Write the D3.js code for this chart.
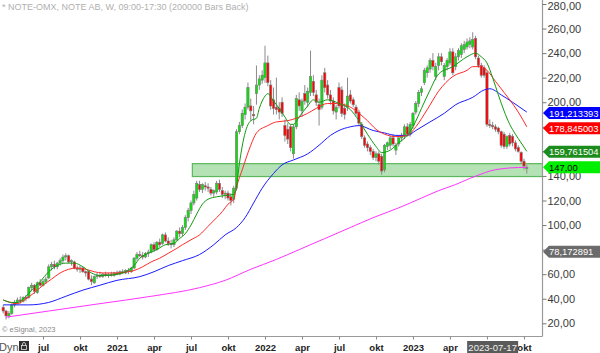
<!DOCTYPE html>
<html><head><meta charset="utf-8">
<script src="https://cdn.jsdelivr.net/npm/d3@7"></script>
<style>body{margin:0;background:#fff}svg{display:block}</style>
</head><body><svg id="c" width="600" height="353"></svg>
<script>
// ---------- DATA ----------
const title = "* NOTE-OMX, NOTE AB, W, 09:00-17:30 (200000 Bars Back)";
const firstWeek = "2020-03-30";
const opens = [33,30,26,28,35,37,39,38,41,41,49,51,45,53,51,54,57,66,68,66,69,71,74,75,70,70,65,64,65,62,62,56,53,58,59,58,60,59,60,59,61,60,62,61,63,62,65,73,76,75,74,77,78,84,80,86,85,92,87,85,84,88,95,93,98,106,112,118,122,133,129,132,131,129,126,127,134,128,125,126,123,121,130,176,181,190,196,197,190,207,214,218,220,232,214,202,196,195,200,181,178,180,158,180,202,193,207,200,208,217,206,198,196,224,214,206,201,192,212,210,195,196,206,202,196,192,182,171,166,163,160,155,158,156,145,164,165,171,161,166,171,172,180,174,181,192,199,208,216,224,227,234,221,230,237,221,229,232,241,229,237,239,243,245,247,245,252,236,230,228,224,182,181,180,179,176,174,164,173,172,167,163,159,152,146];
const highs = [35,31,30,36,39,41,42,42,43,50,53,52,54,56,56,58,68,70,71,70,73,76,77,76,72,71,67,67,66,63,63,59,59,61,62,61,62,61,62,62,63,63,64,64,65,66,74,78,79,78,78,80,85,86,87,89,93,94,90,88,90,96,98,100,108,114,120,128,136,136,134,135,134,131,129,136,137,131,128,128,126,132,178,184,194,199,216,203,197,230,222,226,246,238,218,212,220,200,204,186,183,182,182,206,208,203,214,212,242,222,210,203,222,228,218,210,204,198,216,213,199,220,210,204,198,194,184,173,168,165,162,160,160,158,166,168,173,174,167,172,175,182,183,184,192,201,210,213,228,230,236,240,232,240,240,232,236,244,244,240,244,248,250,252,253,257,254,238,232,230,226,186,184,182,180,177,176,173,175,174,169,165,160,154,149];
const lows = [28,23,24,27,33,35,36,37,38,40,46,44,44,50,50,52,56,63,64,64,67,69,71,69,67,64,62,61,61,58,55,51,52,56,57,57,58,57,58,58,59,59,60,60,60,61,64,71,74,72,73,74,77,78,79,82,84,86,83,81,82,87,90,91,96,103,109,116,120,127,126,128,127,124,123,125,127,122,121,120,116,118,128,174,179,186,194,185,182,198,210,215,216,213,194,190,190,186,188,168,166,160,154,178,193,188,198,196,205,205,197,181,194,208,203,198,190,186,195,188,186,193,199,196,189,181,170,163,160,157,153,152,149,141,143,161,162,164,157,164,168,170,172,172,178,190,196,205,214,220,224,226,218,226,230,218,226,230,222,226,234,236,240,243,244,243,235,228,220,220,180,179,178,176,174,163,162,162,164,164,160,159,150,145,142];
const closes = [30,26,28,35,37,39,38,41,40,49,51,46,53,51,54,56,66,68,66,69,71,74,75,70,71,65,64,65,62,61,56,54,58,59,58,60,59,60,59,61,60,62,61,63,62,65,73,76,75,74,77,78,84,80,86,84,92,87,85,84,88,95,93,98,106,112,118,125,134,129,133,131,130,126,128,134,129,125,126,122,120,130,176,181,191,196,212,193,189,214,219,222,232,216,197,195,194,192,191,173,170,163,180,203,197,201,201,209,221,208,200,194,218,212,206,201,193,196,197,191,190,205,201,198,191,183,172,165,163,160,155,158,152,144,165,167,171,166,165,171,173,180,174,182,191,199,208,211,226,228,234,229,229,237,233,230,234,241,224,237,242,246,247,249,250,251,237,230,222,222,182,181,180,178,176,165,164,172,166,167,162,160,152,148,147];

// moving averages: [bar index, value]
const greenMA = [[0,39],[3,37],[5,37],[8,42],[10,47],[13,54],[16,62],[19,67],[22,69],[25,69],[28,66],[31,61],[34,59],[37,59],[40,60],[43,62],[46,67],[48,73],[51,77],[54,80],[57,84],[60,85],[62,89],[64,93],[66,100],[68,109],[70,117],[72,121],[75,123],[78,124],[81,125],[82,132],[83,150],[85,175],[87,185],[89,187],[90,195],[92,205],[93,207],[95,201],[97,195],[99,188],[101,182],[102,182],[104,188],[107,197],[109,202],[111,200],[114,202],[118,199],[122,194],[125,185],[128,174],[131,164],[133,159],[136,161],[139,167],[142,173],[144,180],[147,195],[150,210],[153,223],[158,229],[163,237],[166,240],[168,237],[170,232],[172,220],[174,206],[176,193],[178,182],[180,174],[182,167],[184,160]];
const redMA = [[0,39],[5,36],[8,40],[11,45],[14,51],[17,56],[20,61],[23,64],[26,65],[29,64],[32,62],[35,61],[40,61],[44,62],[46,63],[49,66],[52,70],[55,73],[58,77],[61,81],[63,84],[66,88],[69,92],[72,99],[75,106],[77,111],[79,117],[81,121],[82,131],[84,145],[87,165],[89,175],[93,181],[96,184],[100,185],[103,187],[107,191],[110,195],[114,199],[117,199],[122,196],[125,191],[128,185],[131,178],[134,174],[138,172],[142,173],[145,180],[149,194],[153,209],[158,221],[163,226],[165,229],[168,229],[170,226],[173,217],[176,208],[178,202],[181,192],[184,180]];
const blueMA = [[0,35],[9,35],[16,37],[22,42],[28,47],[34,51],[40,55],[48,58],[53,62],[58,67],[63,71],[69,76],[74,84],[78,92],[82,98],[85,106],[88,118],[91,130],[95,142],[98,149],[102,153],[107,158],[111,165],[115,173],[118,177],[122,180],[125,181],[130,177],[134,175],[138,173],[142,173],[145,177],[150,184],[155,191],[159,198],[165,204],[169,210],[171,211],[175,206],[179,200],[184,192]];
const magentaMA = [[1,25],[16,30],[34,36],[52,42],[69,49],[78,55],[87,64],[96,72],[104,80],[113,89],[122,98],[130,106],[139,114],[147,122],[153,128],[159,133],[164,138],[168,141.5],[171,144],[175,145.8],[178,146.5],[184,147]];

const zoneLow = 139.5, zoneHigh = 150, zoneStart = 67;
const yTicks = [20,40,60,80,100,120,140,160,180,200,220,240,260,280];
const xTickDates = ["2020-07-06","2020-10-05","2021-01-04","2021-04-05","2021-07-05","2021-10-04","2022-01-03","2022-04-04","2022-07-04","2022-10-03","2023-01-02","2023-04-03","2023-07-03","2023-10-02"];
const xTickLabels = ["jul","okt","2021","apr","jul","okt","2022","apr","jul","okt","2023","apr","jul","okt"];
const cursorDate = "2023-07-17";
const markerValues = [191.213393, 178.845003, 159.761504, 147.00, 78.172891];
const markerLabels = ["191,213393","178,845003","159,761504","147,00","78,172891"];

// ---------- DRAW ----------
const parse = d3.timeParse("%Y-%m-%d");
const t0 = parse(firstWeek);
const dates = closes.map((_, i) => d3.timeDay.offset(t0, 7 * i));
const axisX = 542, plotBottom = 336;
const svg = d3.select("#c");
const font = "Arial, 'Liberation Sans', sans-serif";

const x = d3.scaleTime().domain([dates[0], dates[dates.length - 1]]).range([3.2, 526.8]);
const y = d3.scaleLinear().domain([20, 280]).range([323.3, 4]);

svg.append("clipPath").attr("id", "pc").append("rect")
  .attr("x", 0).attr("y", 0).attr("width", axisX).attr("height", plotBottom);
const plot = svg.append("g").attr("clip-path", "url(#pc)");

// support zone
plot.append("rect")
  .attr("x", x(dates[zoneStart]) - 1.5).attr("y", y(zoneHigh))
  .attr("width", axisX - x(dates[zoneStart]) + 5).attr("height", y(zoneLow) - y(zoneHigh))
  .attr("fill", "#b4e2b4").attr("stroke", "#5cb85c").attr("stroke-width", 1.2);

// candles
const bw = 2.3;
const cg = plot.append("g");
closes.forEach((c, i) => {
  const cx = x(dates[i]);
  cg.append("line").attr("x1", cx).attr("x2", cx).attr("y1", y(highs[i])).attr("y2", y(lows[i]))
    .attr("stroke", "#8a8a8a").attr("stroke-width", 1);
});
closes.forEach((c, i) => {
  const cx = x(dates[i]);
  const o = opens[i];
  const top = y(Math.max(o, c)), bot = y(Math.min(o, c));
  cg.append("rect").attr("x", cx - bw / 2).attr("y", top)
    .attr("width", bw).attr("height", Math.max(1, bot - top))
    .attr("fill", c >= o ? "#00e600" : "#ff0000")
    .attr("stroke", "#7a7a7a").attr("stroke-width", 0.6);
});

// moving averages
const line = d3.line().x(d => x(dates[d[0]])).y(d => y(d[1])).curve(d3.curveMonotoneX);
[[magentaMA, "#ff33ff"], [blueMA, "#1a1aff"], [redMA, "#ff2a2a"], [greenMA, "#119911"]].forEach(([d, col]) => {
  plot.append("path").datum(d).attr("d", line).attr("fill", "none")
    .attr("stroke", col).attr("stroke-width", 1);
});

// frame
svg.append("line").attr("x1", axisX + 0.5).attr("x2", axisX + 0.5).attr("y1", 0).attr("y2", plotBottom + 0.5)
  .attr("stroke", "#9a9a9a").attr("stroke-width", 1.2);
svg.append("line").attr("x1", 0).attr("x2", axisX + 0.5).attr("y1", plotBottom + 0.5).attr("y2", plotBottom + 0.5)
  .attr("stroke", "#9a9a9a").attr("stroke-width", 1.2);

// y axis
const fmt = v => d3.format(".2f")(v).replace(".", ",");
const ya = svg.append("g").attr("transform", `translate(${axisX + 0.5},0)`)
  .call(d3.axisRight(y).tickValues(yTicks).tickSize(4).tickPadding(1).tickFormat(fmt));
ya.select(".domain").remove();
ya.selectAll(".tick line").attr("stroke", "#777");
ya.selectAll(".tick text").attr("font-family", font).attr("font-size", 11).attr("fill", "#3a3a3a");
ya.selectAll(".tick").filter(d => d === 280).select("text").attr("dy", "0.5em");

// x axis
const tickD = xTickDates.map(parse);
const xa = svg.append("g").attr("transform", `translate(0,${plotBottom + 0.5})`)
  .call(d3.axisBottom(x).tickValues(tickD).tickSize(3).tickPadding(5).tickFormat((d, i) => xTickLabels[i]));
xa.select(".domain").remove();
xa.selectAll(".tick line").attr("stroke", "#888");
xa.selectAll(".tick text").attr("font-family", font).attr("font-size", 9.5).attr("font-weight", "bold").attr("fill", "#222");

// cursor date box
const cx = x(parse(cursorDate));
svg.append("rect").attr("x", cx - 25.5).attr("y", 341).attr("width", 51).attr("height", 12).attr("fill", "#5a5a5a");
svg.append("text").attr("x", cx).attr("y", 351).attr("text-anchor", "middle")
  .attr("font-family", font).attr("font-size", 9.5).attr("fill", "#f0f0f0").text(cursorDate);

// price markers
const mFill = ["#0000ff", "#ff0000", "#1c8c1c", "#00ee00", "#6b6b6b"];
const mText = ["#ffffff", "#ffffff", "#ffffff", "#000000", "#ffffff"];
markerValues.forEach((v, i) => {
  const my = y(v), h = 12;
  svg.append("path")
    .attr("d", `M${axisX + 1},${my} L${axisX + 7},${my - h / 2} L600,${my - h / 2} L600,${my + h / 2} L${axisX + 7},${my + h / 2} Z`)
    .attr("fill", mFill[i]);
  svg.append("text").attr("x", axisX + 7).attr("y", my + 3.6)
    .attr("font-family", font).attr("font-size", 9.4).attr("fill", mText[i]).text(markerLabels[i]);
});

// texts
svg.append("text").attr("x", 2).attr("y", 10).attr("font-family", font).attr("font-size", 9)
  .attr("fill", "#b0b0b0").text(title);
svg.append("text").attr("x", 2).attr("y", 332).attr("font-family", font).attr("font-size", 7.5)
  .attr("fill", "#8a8a8a").text("© eSignal, 2023");
svg.append("text").attr("x", -1).attr("y", 351).attr("font-family", font).attr("font-size", 11)
  .attr("fill", "#555").text("Dyn");
svg.append("rect").attr("x", 19).attr("y", 341).attr("width", 10).attr("height", 10).attr("fill", "#2e2e2e");
svg.append("rect").attr("x", 21.5).attr("y", 345.5).attr("width", 5).attr("height", 4).attr("fill", "none").attr("stroke", "#ddd").attr("stroke-width", 0.8);
svg.append("path").attr("d", "M22.5,345.5 v-1.5 a1.5,1.5 0 0 1 3,0 v1.5").attr("fill", "none").attr("stroke", "#ddd").attr("stroke-width", 0.8);
</script></body></html>
